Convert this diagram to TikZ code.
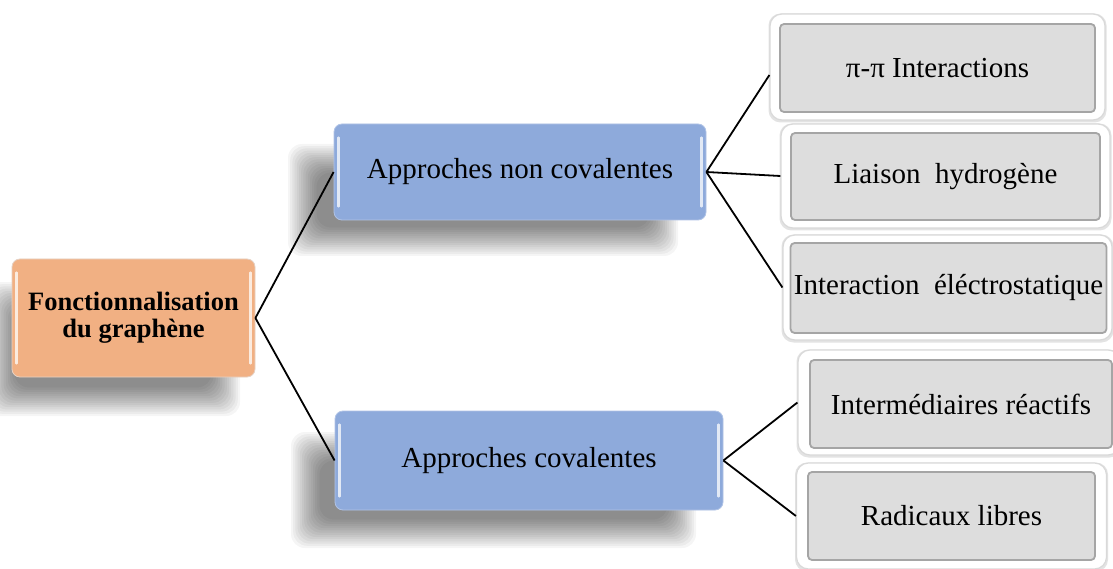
\documentclass[tikz,border=0pt]{standalone}
\usepackage{fontspec}
\setmainfont{Liberation Serif}
\definecolor{rootfill}{RGB}{241,176,131}
\definecolor{bluefill}{RGB}{142,170,219}
\definecolor{grayfill}{RGB}{221,221,221}
\definecolor{grayedge}{RGB}{165,165,165}
\tikzset{
  rootbox/.style={rectangle, rounded corners=8, fill=rootfill, draw=rootfill!80!black!40!white, line width=0.8,
    align=center, font=\fontsize{26.5}{27}\selectfont\bfseries},
  bluebox/.style={rectangle, rounded corners=8, fill=bluefill, draw=bluefill!70!white, line width=0.8,
    font=\fontsize{29}{30}\selectfont},
  framebox/.style={rectangle, rounded corners=12, fill=white, draw=gray!30, line width=1.2},
  frameshade/.style={rectangle, rounded corners=12, fill=gray!22, draw=none},
  graybox/.style={rectangle, rounded corners=4, fill=grayfill, draw=grayedge, line width=1.8,
    font=\fontsize{29}{30}\selectfont},
  link/.style={line width=1.8, draw=black},
  shadowlayer/.style={fill=black, fill opacity=0.04, draw=none, rounded corners=14},
}
\newcommand\mysoftshadow[4]{% x1 y1 x2 y2
  \foreach \i in {0,...,13}{%
    \path[shadowlayer] ({#1+2.2*\i},{#2+2.2*\i}) rectangle ({#3-2.2*\i},{#4-2.2*\i});
  }%
}
\begin{document}
\begin{tikzpicture}[x=1pt,y=-1pt]
\fill[white] (0,0) rectangle (1113,569);
\useasboundingbox (0,0) rectangle (1113,569);
% soft shadows
\mysoftshadow{-14}{282}{240}{416}
\mysoftshadow{288}{144}{678}{256}
\mysoftshadow{291}{432}{696}{548}
% root
\node[rootbox, minimum width=243, minimum height=118] (root) at (133.5,318) {Fonctionnalisation\\du graphène};
% blue boxes
\node[bluebox, minimum width=372, minimum height=96] (nc) at (520,172) {Approches non covalentes};
\node[bluebox, minimum width=388, minimum height=99] (cv) at (529,460.5) {Approches covalentes};
% highlights on boxes
\foreach \b in {nc,cv,root}{
  \draw[white, line width=2.5, opacity=0.75, line cap=round] ([xshift=5,yshift=-14]\b.north west) -- ([xshift=5,yshift=14]\b.south west);
  \draw[white, line width=2.5, opacity=0.75, line cap=round] ([xshift=-5,yshift=-14]\b.north east) -- ([xshift=-5,yshift=14]\b.south east);
}
% right frames
\node[frameshade, minimum width=338, minimum height=109] at (937.5,68) {};
\node[framebox, minimum width=335, minimum height=106] (f1) at (937.5,67) {};
\node[graybox, minimum width=315, minimum height=88] (g1) at (937.5,68) {π-π Interactions};
\node[frameshade, minimum width=332, minimum height=107] at (945.5,177) {};
\node[framebox, minimum width=329, minimum height=104] (f2) at (945.5,176) {};
\node[graybox, minimum width=309, minimum height=87] (g2) at (945.5,176.5) {Liaison\ \ hydrogène};
\node[frameshade, minimum width=332, minimum height=108] at (947.5,288.5) {};
\node[framebox, minimum width=329, minimum height=105] (f3) at (947.5,287.5) {};
\node[graybox, minimum width=313, minimum height=90] (g3) at (948.5,288) {Interaction\ \ éléctrostatique};
\node[frameshade, minimum width=325, minimum height=108] at (959,403.5) {};
\node[framebox, minimum width=322, minimum height=105] (f4) at (959,402.5) {};
\node[graybox, minimum width=302, minimum height=88] (g4) at (961,404) {Intermédiaires réactifs};
\node[frameshade, minimum width=313, minimum height=109] at (951.5,517) {};
\node[framebox, minimum width=310, minimum height=106] (f5) at (951.5,516) {};
\node[graybox, minimum width=287, minimum height=88] (g5) at (951.5,516) {Radicaux libres};
% connectors
\draw[link] (root.east) -- (nc.west);
\draw[link] (root.east) -- (cv.west);
\draw[link] (nc.east) -- ([yshift=-8]f1.west);
\draw[link] (nc.east) -- (f2.west);
\draw[link] (nc.east) -- (f3.west);
\draw[link] (cv.east) -- (f4.west);
\draw[link] (cv.east) -- (f5.west);
\end{tikzpicture}
\end{document}
